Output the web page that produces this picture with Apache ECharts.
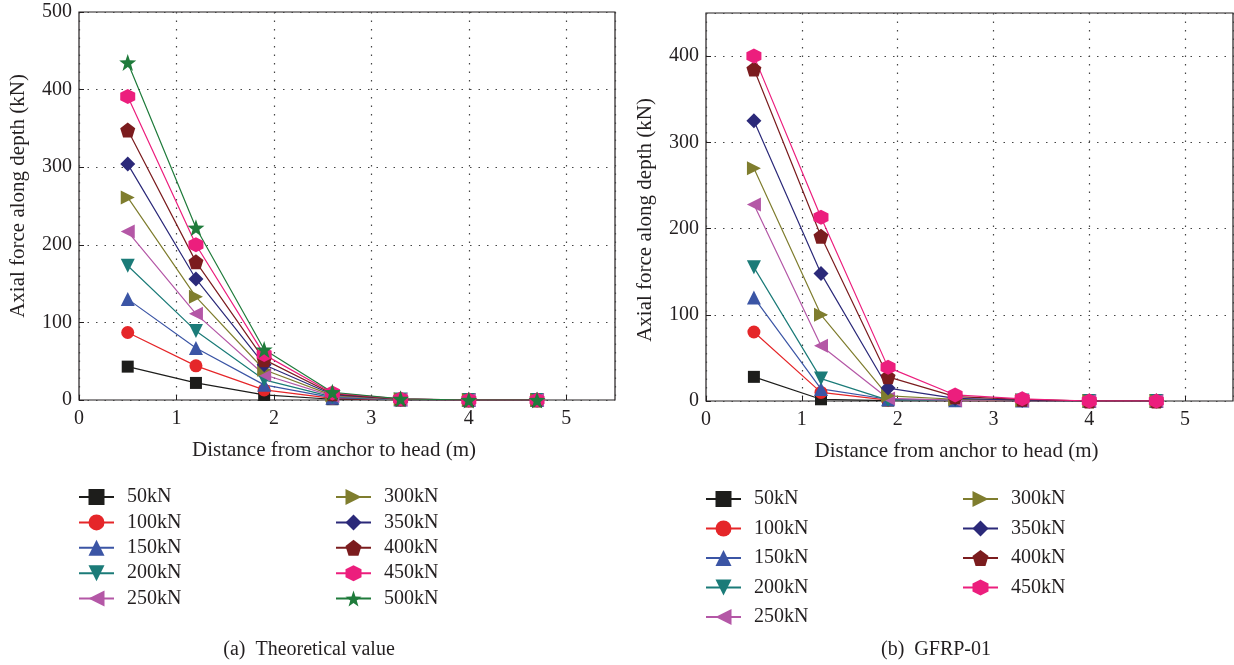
<!DOCTYPE html>
<html>
<head>
<meta charset="utf-8">
<script src="https://cdn.jsdelivr.net/npm/echarts@6/dist/echarts.min.js"></script>
<style>
  html, body { margin: 0; padding: 0; background: #fff; }
  #main { width: 1234px; height: 665px; }
</style>
</head>
<body>
<div id="main"></div>
<script>
// distance from anchor to head (m)
var xs = [0.5, 1.2, 1.9, 2.6, 3.3, 4.0, 4.7];
var loads = ['50kN', '100kN', '150kN', '200kN', '250kN', '300kN', '350kN', '400kN', '450kN', '500kN'];

// (a) theoretical value, axial force (kN)
var theo50 = [43, 22, 6.5, 1, 0.2, 0, 0];
var theo100 = [87, 44, 13, 2, 0.3, 0, 0];
var theo150 = [130, 67, 19.5, 3, 0.5, 0, 0];
var theo200 = [173, 89, 26, 4, 0.6, 0, 0];
var theo250 = [217, 111, 32.5, 5, 0.8, 0, 0];
var theo300 = [261, 133, 39, 6, 0.9, 0, 0];
var theo350 = [304, 156, 45.5, 7, 1.1, 0, 0];
var theo400 = [348, 178, 52, 8, 1.2, 0, 0];
var theo450 = [391, 200, 58.5, 9, 1.4, 0, 0];
var theo500 = [435, 222, 65, 10, 1.5, 0, 0];

// (b) GFRP-01 measured, axial force (kN)
var gfrp50 = [28, 2, 0.5, 0.3, 0.2, 0, 0];
var gfrp100 = [80, 10, 1, 0.5, 0.3, 0, 0];
var gfrp150 = [120, 14, 2, 1, 0.5, 0, 0];
var gfrp200 = [155, 26, 1, 1, 0.5, 0, 0];
var gfrp250 = [228, 64, 3, 1, 0.5, 0, 0];
var gfrp300 = [270, 100, 6, 2, 1, 0, 0];
var gfrp350 = [325, 148, 15, 3, 1, 0, 0];
var gfrp400 = [385, 191, 28, 5, 2, 0, 0];
var gfrp450 = [400, 213, 39, 7, 2.5, 0, 0];

var theoSets = [theo50, theo100, theo150, theo200, theo250, theo300, theo350, theo400, theo450, theo500];
var gfrpSets = [gfrp50, gfrp100, gfrp150, gfrp200, gfrp250, gfrp300, gfrp350, gfrp400, gfrp450];

var FONT = '"Liberation Serif", "DejaVu Serif", serif';
var INK = '#231f20';

// marker style per load
var styles = [
  { color: '#1d1d1b', symbol: 'rect', size: 12, rotate: 0 },
  { color: '#e52629', symbol: 'circle', size: 13, rotate: 0 },
  { color: '#3b55a5', symbol: 'triangle', size: 14, rotate: 0 },
  { color: '#1b7b78', symbol: 'triangle', size: 14, rotate: 180 },
  { color: '#b457a6', symbol: 'triangle', size: 14, rotate: 90 },
  { color: '#7f7d2e', symbol: 'triangle', size: 14, rotate: -90 },
  { color: '#2b2979', symbol: 'diamond', size: 15, rotate: 0 },
  { color: '#7b1c1e', symbol: 'path://M0,-10L9.51,-3.09L5.88,8.09L-5.88,8.09L-9.51,-3.09Z', size: 15, rotate: 0 },
  { color: '#ec1e7d', symbol: 'path://M0,-10L8.66,-5L8.66,5L0,10L-8.66,5L-8.66,-5Z', size: 15, rotate: 0 },
  { color: '#1f7b3b', symbol: 'path://M0,-10L2.35,-3.24L9.51,-3.09L3.8,1.24L5.88,8.09L0,4L-5.88,8.09L-3.8,1.24L-9.51,-3.09L-2.35,-3.24Z', size: 17, rotate: 0 }
];

function makeSeries(sets, axisIdx) {
  return sets.map(function (vals, i) {
    var s = styles[i];
    return {
      name: loads[i],
      type: 'line',
      xAxisIndex: axisIdx,
      yAxisIndex: axisIdx,
      data: xs.map(function (x, k) { return [x, vals[k]]; }),
      symbol: s.symbol,
      symbolSize: s.size,
      symbolRotate: s.rotate,
      showAllSymbol: true,
      lineStyle: { color: s.color, width: 1.2 },
      itemStyle: { color: s.color, borderWidth: 0 },
      emphasis: { disabled: true },
      animation: false
    };
  });
}

function xAxisOpt(idx) {
  return {
    type: 'value',
    gridIndex: idx,
    min: 0, max: 5.5, interval: 1,
    name: 'Distance from anchor to head (m)',
    nameLocation: 'middle',
    nameGap: 40,
    nameTextStyle: { fontFamily: FONT, fontSize: 21, color: INK, padding: [0, 26, 0, 0] },
    axisLine: { show: false },
    axisTick: { show: true, inside: true, length: 5, lineStyle: { color: INK } },
    axisLabel: { fontFamily: FONT, fontSize: 20, color: INK, margin: 9, showMaxLabel: false },
    splitLine: { show: true, lineStyle: { color: '#444', type: [1.5, 7], width: 1.2 } }
  };
}

function yAxisOpt(idx, max, pad) {
  return {
    type: 'value',
    gridIndex: idx,
    min: 0, max: max, interval: 100,
    name: 'Axial force along depth (kN)',
    nameLocation: 'middle',
    nameGap: 50,
    nameTextStyle: { fontFamily: FONT, fontSize: 21, color: INK, padding: pad },
    axisLine: { show: false },
    axisTick: { show: true, inside: true, length: 5, lineStyle: { color: INK } },
    axisLabel: { fontFamily: FONT, fontSize: 20, color: INK, margin: 7, showMaxLabel: max === 500 },
    splitLine: { show: true, lineStyle: { color: '#444', type: [1.5, 7], width: 1.2 } }
  };
}

function legendOpt(names, left, top, gap) {
  return {
    data: names,
    orient: 'vertical',
    left: left,
    top: top,
    padding: 0,
    itemGap: gap,
    itemWidth: 35,
    itemHeight: 20,
    selectedMode: false,
    textStyle: { fontFamily: FONT, fontSize: 20, color: INK, lineHeight: 20, padding: [0, 0, 0, 8] }
  };
}

var chart = echarts.init(document.getElementById('main'), null, { renderer: 'canvas' });

var option = {
  backgroundColor: '#fff',
  animation: false,
  grid: [
    { left: 79, top: 12, width: 536, height: 388, show: true, borderColor: INK, borderWidth: 1.2, backgroundColor: 'transparent' },
    { left: 706, top: 13, width: 527, height: 388, show: true, borderColor: INK, borderWidth: 1.2, backgroundColor: 'transparent' }
  ],
  xAxis: [xAxisOpt(0), xAxisOpt(1)],
  yAxis: [yAxisOpt(0, 500, [0, 0, 0, 20]), yAxisOpt(1, 450, [0, 26, 0, 0])],
  legend: [
    legendOpt(loads.slice(0, 5), 78, 487, 5.4),
    legendOpt(loads.slice(5, 10), 335, 487, 5.4),
    legendOpt(loads.slice(0, 5), 705, 489, 9.5),
    legendOpt(loads.slice(5, 9), 962, 489, 9.5)
  ],
  graphic: [
    { type: 'text', x: 309, y: 650, style: { text: '(a)  Theoretical value', font: '20px ' + FONT, fill: INK, textAlign: 'center', textVerticalAlign: 'middle' } },
    { type: 'text', x: 936, y: 650, style: { text: '(b)  GFRP-01', font: '20px ' + FONT, fill: INK, textAlign: 'center', textVerticalAlign: 'middle' } }
  ],
  series: makeSeries(theoSets, 0).concat(makeSeries(gfrpSets, 1))
};

chart.setOption(option);
</script>
</body>
</html>
